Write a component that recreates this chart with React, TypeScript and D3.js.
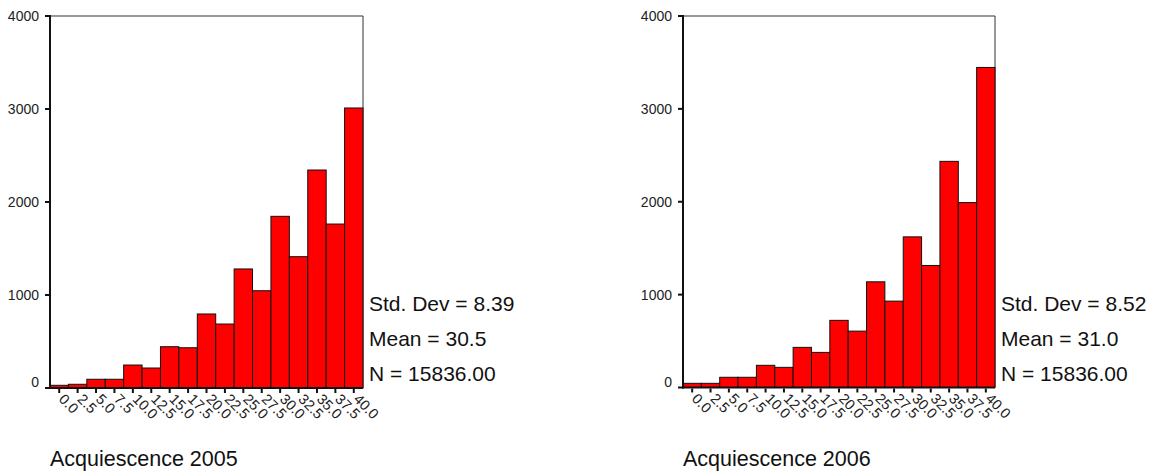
import React from "react";
import * as d3 from "d3";

// histogram bins (label = bin midpoint)
const binLabels = ["0.0", "2.5", "5.0", "7.5", "10.0", "12.5", "15.0", "17.5", "20.0",
  "22.5", "25.0", "27.5", "30.0", "32.5", "35.0", "37.5", "40.0"];

const counts2005 = [29, 40, 94, 94, 247, 215, 444, 433, 796, 688, 1280, 1046, 1846, 1412, 2344, 1763, 3011];
const counts2006 = [45, 45, 110, 110, 239, 217, 432, 378, 723, 607, 1138, 930, 1622, 1314, 2435, 1991, 3446];

const stats2005 = ["Std. Dev = 8.39", "Mean = 30.5", "N = 15836.00"];
const stats2006 = ["Std. Dev = 8.52", "Mean = 31.0", "N = 15836.00"];

const yTicks = [0, 1000, 2000, 3000, 4000];

const FONT = "'Liberation Sans', Arial, Helvetica, sans-serif";

type HistProps = {
  left: number;
  right: number;
  top: number;
  bottom: number;
  counts: number[];
  stats: string[];
  title: string;
};

function Histogram({ left, right, top, bottom, counts, stats, title }: HistProps) {
  const x = d3.scaleBand<string>().domain(binLabels).range([left, right]).padding(0);
  const y = d3.scaleLinear().domain([0, 4000]).range([bottom, top]);
  const bw = x.bandwidth();

  return (
    <g>
      {/* frame: thin top + right */}
      <line x1={left} x2={right} y1={top} y2={top} stroke="#333" strokeWidth={1} />
      <line x1={right} x2={right} y1={top} y2={bottom} stroke="#333" strokeWidth={1} />

      {counts.map((c, i) => (
        <rect
          key={i}
          x={x(binLabels[i])!}
          y={y(c)}
          width={bw}
          height={bottom - y(c)}
          fill="#ff0000"
          stroke="#111"
          strokeWidth={1}
        />
      ))}

      {/* y axis */}
      <line x1={left} x2={left} y1={top - 1} y2={bottom + 1} stroke="#111" strokeWidth={2} />
      {yTicks.map(t => (
        <g key={t}>
          <line x1={left - 5} x2={left} y1={y(t)} y2={y(t)} stroke="#111" strokeWidth={2} />
          <text
            x={left - 11}
            y={t === 0 ? y(t) - 6 : y(t)}
            dy="0.36em"
            textAnchor="end"
            fontSize={14}
            fontFamily={FONT}
            fill="#222"
          >{t}</text>
        </g>
      ))}

      {/* x axis */}
      <line x1={left - 1} x2={right} y1={bottom} y2={bottom} stroke="#111" strokeWidth={2} />
      {binLabels.map(b => {
        const cx = x(b)! + bw / 2;
        return (
          <g key={b}>
            <line x1={cx} x2={cx} y1={bottom + 1} y2={bottom + 5} stroke="#111" strokeWidth={2} />
            <text
              transform={`translate(${cx + 2},${bottom + 9}) rotate(45)`}
              textAnchor="start"
              dy="0.3em"
              fontSize={14.5}
              fontFamily={FONT}
              fill="#222"
            >{b}</text>
          </g>
        );
      })}

      {stats.map((s, i) => (
        <text key={s} x={right + 6} y={311 + i * 35} fontSize={21} fontFamily={FONT} fill="#111">{s}</text>
      ))}

      <text x={left} y={466} fontSize={21.5} fontFamily={FONT} fill="#111">{title}</text>
    </g>
  );
}

export default function App() {
  return (
    <svg
      width={1170}
      height={475}
      style={{ position: "absolute", left: 0, top: 0, background: "#fff" }}
    >
      <Histogram left={50} right={363} top={16} bottom={388} counts={counts2005} stats={stats2005} title="Acquiescence 2005" />
      <Histogram left={683} right={995} top={16} bottom={387.5} counts={counts2006} stats={stats2006} title="Acquiescence 2006" />
    </svg>
  );
}
